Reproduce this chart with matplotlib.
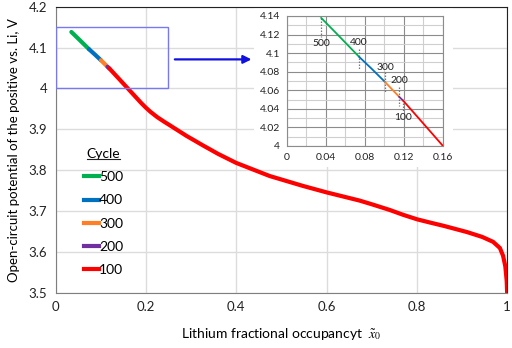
import matplotlib
matplotlib.use('Agg')
import matplotlib.pyplot as plt
from matplotlib.lines import Line2D
from matplotlib.patches import Rectangle
import numpy as np

plt.rcParams['font.family'] = ['Lato', 'DejaVu Sans']
plt.rcParams['mathtext.fontset'] = 'stix'

# open-circuit potential curve
occ = np.array([0.035, 0.05, 0.074, 0.087, 0.1005, 0.115, 0.119, 0.14, 0.16, 0.17,
                0.18, 0.19, 0.2, 0.21, 0.225, 0.24, 0.253, 0.29, 0.326, 0.36,
                0.4, 0.474, 0.547, 0.6, 0.673, 0.7, 0.74, 0.77, 0.801, 0.83,
                0.86, 0.911, 0.945, 0.969, 0.984, 0.991, 0.996, 0.999, 1.0])
ocv = np.array([4.138, 4.122, 4.096, 4.083, 4.069, 4.053, 4.049, 4.024, 4.0, 3.988,
                3.976, 3.964, 3.953, 3.943, 3.930, 3.919, 3.910, 3.884, 3.861, 3.840,
                3.818, 3.786, 3.762, 3.746, 3.726, 3.717, 3.703, 3.691, 3.68, 3.672,
                3.664, 3.649, 3.637, 3.625, 3.61, 3.591, 3.565, 3.53, 3.5])

cycles = ['500', '400', '300', '200', '100']
cycle_start = [0.035, 0.074, 0.1005, 0.115, 0.119]
cycle_colors = ['#00b050', '#0070c0', '#ff7f27', '#7030a0', '#ff0000']

# labels of the inset: (x, label y, dotted from, dotted to)
mark_x = [0.035, 0.074, 0.1005, 0.115, 0.119]
mark_label_y = [4.110, 4.111, 4.085, 4.070, 4.031]
mark_dot = [(4.138, 4.117), (4.104, 4.082), (4.080, 4.058), (4.064, 4.043), (4.050, 4.038)]

fig = plt.figure(figsize=(5.12, 3.48), dpi=100)
ax = fig.add_axes([0.1085, 0.158, 0.882, 0.823])


def draw_segments(a, lw):
    for i, c in enumerate(cycles):
        lo = cycle_start[i]
        hi = cycle_start[i + 1] if i + 1 < len(cycles) else 1.0
        m = (occ >= lo) & (occ <= hi)
        a.plot(occ[m], ocv[m], color=cycle_colors[i], lw=lw, solid_capstyle='round',
               solid_joinstyle='round', zorder=3)


draw_segments(ax, 3.0)
ax.set_xlim(0, 1)
ax.set_ylim(3.5, 4.2)
ax.set_xticks(np.arange(0, 1.01, 0.2))
ax.set_yticks(np.arange(3.5, 4.21, 0.1))
ax.set_xticklabels(['0', '0.2', '0.4', '0.6', '0.8', '1'])
ax.set_yticklabels(['3.5', '3.6', '3.7', '3.8', '3.9', '4', '4.1', '4.2'])
ax.tick_params(length=0, labelsize=9.5, colors='#222222', pad=6)
ax.tick_params(axis='y', pad=6)
ax.grid(color='#dcdcdc', lw=1)
for s in ['left', 'bottom']:
    ax.spines[s].set_color('#7f7f7f')
for s in ['top', 'right']:
    ax.spines[s].set_color('#222222')
ax.set_xlabel(r'Lithium fractional occupancyt  $\tilde{x}_0$', fontsize=10, labelpad=9)
ax.set_ylabel('Open-circuit potential of the positive vs. Li, V', fontsize=9.5, labelpad=6)

# zoom box and arrow
ax.add_patch(Rectangle((0, 4.0), 0.25, 0.15, fill=False, ec='#7878f0', lw=1, zorder=4))
ax.annotate('', xy=(0.44, 4.071), xytext=(0.258, 4.071),
            arrowprops=dict(arrowstyle='-|>', color='#1010e0', lw=1.6, mutation_scale=12))

# white panel behind the inset
ax.add_patch(Rectangle((0.44, 3.807), 0.44, 0.4, fc='white', ec='none', zorder=2))

handles = [Line2D([], [], color=c, lw=3) for c in cycle_colors]
leg = ax.legend(handles, cycles, loc='upper left', bbox_to_anchor=(0.05, 0.525),
                frameon=False, handlelength=1.1, handletextpad=0.0, labelspacing=0.8,
                fontsize=10, title='Cycle', title_fontsize=10, borderaxespad=0)

# underline the legend title
fig.canvas.draw()
bb = leg.get_title().get_window_extent().transformed(fig.transFigure.inverted())
fig.add_artist(Line2D([bb.x0, bb.x1], [bb.y0 + 0.004, bb.y0 + 0.004],
                      transform=fig.transFigure, color='#222222', lw=0.8))

# inset
ins = fig.add_axes([0.5605, 0.5805, 0.3047, 0.3736])
draw_segments(ins, 1.3)
ins.set_xlim(0, 0.16)
ins.set_ylim(4.0, 4.14)
ins.set_xticks(np.arange(0, 0.161, 0.04))
ins.set_xticks(np.arange(0.02, 0.161, 0.04), minor=True)
ins.set_yticks(np.arange(4.0, 4.141, 0.02))
ins.set_yticks(np.arange(4.01, 4.14, 0.02), minor=True)
ins.set_xticklabels(['0', '0.04', '0.08', '0.12', '0.16'])
ins.set_yticklabels(['4', '4.02', '4.04', '4.06', '4.08', '4.1', '4.12', '4.14'])
ins.tick_params(which='both', length=0, labelsize=7.5, colors='#222222', pad=5)
ins.grid(which='major', color='#8c8c8c', lw=0.8)
ins.grid(which='minor', color='#cfcfcf', lw=0.8)
for s in ins.spines.values():
    s.set_color('#8c8c8c')
for i in range(len(cycles)):
    ins.plot([mark_x[i], mark_x[i]], mark_dot[i], color='#777777', lw=0.9, ls=(0, (1.2, 1.2)), zorder=2)
    ins.text(mark_x[i], mark_label_y[i], cycles[i], fontsize=7.5, ha='center', va='center',
             color='#222222', zorder=4)

fig.savefig('out.png', dpi=100)
